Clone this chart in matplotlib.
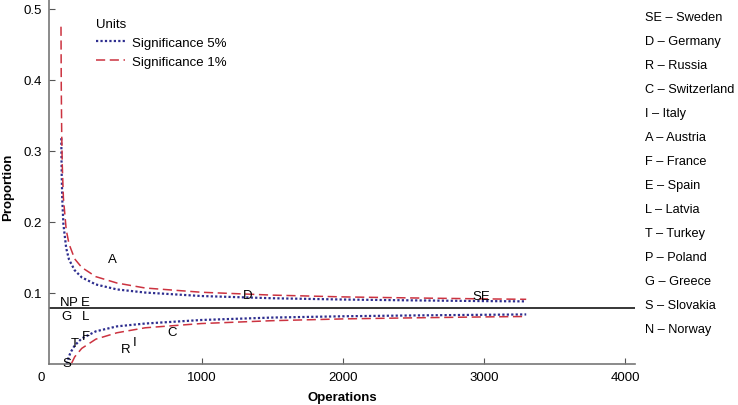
import matplotlib.pyplot as plt

plt.rcParams['font.family'] = ['Liberation Sans', 'DejaVu Sans']

# overall proportion (reference line)
overall = 0.079

# funnel limits
up1_ops = [3, 5, 8, 12, 20, 40, 60, 100, 150, 250, 400, 600, 1000, 1500, 2000, 2500, 3000, 3300]
up1_val = [0.475, 0.390, 0.325, 0.280, 0.234, 0.189, 0.169, 0.148, 0.136, 0.123, 0.114, 0.107,
           0.101, 0.097, 0.0945, 0.093, 0.0917, 0.0911]
up5_ops = [5, 8, 12, 20, 40, 60, 100, 150, 250, 400, 600, 1000, 1500, 2000, 2500, 3000, 3300]
up5_val = [0.318, 0.266, 0.232, 0.197, 0.163, 0.147, 0.132, 0.122, 0.112, 0.105, 0.1006,
           0.0957, 0.0926, 0.0908, 0.0896, 0.0886, 0.0882]
lo5_ops = [45, 55, 70, 100, 150, 250, 400, 600, 1000, 1500, 2000, 2500, 3000, 3300]
lo5_val = [0.0, 0.008, 0.016, 0.026, 0.036, 0.046, 0.053, 0.057, 0.062, 0.0654, 0.0672,
           0.0684, 0.0693, 0.0698]
lo1_ops = [78, 100, 150, 250, 400, 600, 1000, 1500, 2000, 2500, 3000, 3300]
lo1_val = [0.001, 0.010, 0.022, 0.035, 0.044, 0.051, 0.057, 0.061, 0.0635, 0.065, 0.0663, 0.0669]

# countries: code, operations, proportion
codes = ["SE", "D", "R", "C", "I", "A", "F", "E", "L", "T", "P", "G", "S", "N"]
names = ["Sweden", "Germany", "Russia", "Switzerland", "Italy", "Austria", "France",
         "Spain", "Latvia", "Turkey", "Poland", "Greece", "Slovakia", "Norway"]
ops = [2979, 1326, 463, 794, 527, 367, 178, 178, 178, 97, 88, 43, 43, 31]
prop = [0.096, 0.097, 0.021, 0.0446, 0.0314, 0.148, 0.039, 0.0877, 0.067, 0.029, 0.0877,
        0.067, 0.001, 0.0877]

fig = plt.figure(figsize=(7.38, 4.06), dpi=100)
ax = fig.add_axes([49 / 738, 41 / 406, 586 / 738, 365 / 406])

blue = "#2e2e8f"
red = "#cc3340"
ax.plot(up5_ops, up5_val, color=blue, ls=(0, (1, 1)), lw=1.6, label="Significance 5%")
ax.plot(up1_ops, up1_val, color=red, ls=(0, (6, 3)), lw=1.1, label="Significance 1%")
ax.plot(lo5_ops, lo5_val, color=blue, ls=(0, (1, 1)), lw=1.6)
ax.plot(lo1_ops, lo1_val, color=red, ls=(0, (6, 3)), lw=1.1)
ax.axhline(overall, color="black", lw=1.1)

for c, x, y in zip(codes, ops, prop):
    ax.text(x, y, c, ha="center", va="center", fontsize=9.5)

ax.set_xlim(-82, 4071)
ax.set_ylim(0, 0.514)
ax.set_xticks([1000, 2000, 3000, 4000])
ax.set_yticks([0.1, 0.2, 0.3, 0.4, 0.5])
ax.set_yticklabels(["0.1", "0.2", "0.3", "0.4", "0.5"])
ax.tick_params(direction="in", length=4, width=0.8, color="#555555", labelsize=9.5, pad=5)
for s in ["top", "right"]:
    ax.spines[s].set_visible(False)
for s in ["left", "bottom"]:
    ax.spines[s].set_color("#777777")
    ax.spines[s].set_linewidth(1.2)

fig.text(342 / 738, 1 - 398 / 406, "Operations", ha="center", va="center",
         fontsize=9.5, fontweight="bold")
fig.text(8 / 738, 1 - 187 / 406, "Proportion", ha="center", va="center", rotation=90,
         fontsize=9.5, fontweight="bold")
fig.text(41 / 738, 1 - 378 / 406, "0", ha="center", va="center", fontsize=9.5)

leg = ax.legend(title="Units", loc="upper left", bbox_to_anchor=(0.066, 0.97), frameon=False,
                fontsize=9.5, title_fontsize=9.5, handlelength=2.2, handletextpad=0.55,
                labelspacing=0.5, borderaxespad=0.2)
leg._legend_box.align = "left"

# key on the right
for i, (c, n) in enumerate(zip(codes, names)):
    fig.text(645 / 738, 1 - (18.3 + 24.0 * i) / 406, f"{c} \u2013 {n}", ha="left", va="center",
             fontsize=9.2)

fig.savefig("out.png", dpi=100)
